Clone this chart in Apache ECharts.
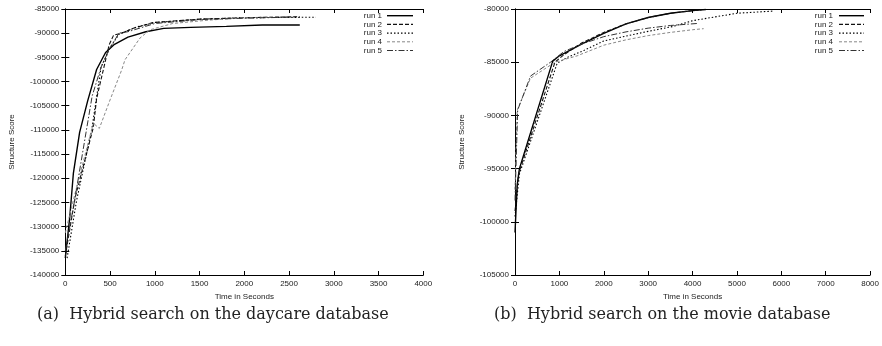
<!DOCTYPE html>
<html><head><meta charset="utf-8">
<script src="https://cdn.jsdelivr.net/npm/echarts@6/dist/echarts.min.js"></script>
<style>html,body{margin:0;padding:0;background:#fff}#c{width:882px;height:346px}</style>
</head><body><div id="c"></div>
<script>
// ---- Data: daycare (left) ----
const runNames = ['run 1','run 2','run 3','run 4','run 5'];
const dayXTicks = [0,500,1000,1500,2000,2500,3000,3500,4000];
const dayYTicks = [-140000,-135000,-130000,-125000,-120000,-115000,-110000,-105000,-100000,-95000,-90000,-85000];
const dayRun1X = [0,50,90,160,250,350,450,550,700,900,1100,1400,1800,2200,2620];
const dayRun1Y = [-136500,-128000,-119000,-110500,-104000,-97500,-94000,-92300,-90800,-89700,-89000,-88800,-88600,-88300,-88300];
const dayRun2X = [0,110,313,350,490,540,630,760,980,1500,2000,2620];
const dayRun2Y = [-136000,-124000,-109500,-103500,-92400,-90400,-90000,-89000,-87800,-87100,-86800,-86600];
const dayRun3X = [20,127,295,400,500,600,800,1000,1500,2000,2800];
const dayRun3Y = [-136500,-124500,-110000,-97000,-93000,-90200,-88700,-87800,-87100,-86800,-86700];
const dayRun4X = [0,90,313,380,500,630,667,835,946,1200,1600,2000,2500];
const dayRun4Y = [-131300,-124500,-108600,-109700,-103800,-97600,-95500,-91000,-89300,-88000,-87300,-86800,-86600];
const dayRun5X = [0,100,300,400,500,600,700,1000,1500,2000,2500];
const dayRun5Y = [-135000,-125000,-103000,-97000,-93000,-90000,-89700,-88000,-87200,-86900,-86700];
// ---- Data: movie (right) ----
const movXTicks = [0,1000,2000,3000,4000,5000,6000,7000,8000];
const movYTicks = [-105000,-100000,-95000,-90000,-85000,-80000];
const movRun1X = [0,50,100,850,1000,1500,2000,2500,3000,3500,4000,4300];
const movRun1Y = [-101000,-96500,-95000,-84900,-84400,-83300,-82300,-81400,-80800,-80400,-80150,-80050];
const movRun2X = [0,80,900,1100,1500,2000,2500,3000,3500,4000,4200];
const movRun2Y = [-99000,-95500,-85000,-84300,-83200,-82200,-81400,-80800,-80400,-80150,-80100];
const movRun3X = [0,100,950,1200,1500,2000,3000,3550,4000,5000,5800];
const movRun3Y = [-99500,-95500,-85100,-84500,-84000,-83000,-82100,-81650,-81100,-80400,-80200];
const movRun4X = [0,50,350,900,1400,2000,2500,3000,3500,4000,4250];
const movRun4Y = [-97000,-89500,-86500,-85000,-84400,-83400,-82900,-82500,-82200,-81950,-81850];
const movRun5X = [0,60,350,800,1100,1500,2000,2500,3000,3500,4140];
const movRun5Y = [-98000,-89500,-86300,-85000,-84000,-83300,-82600,-82150,-81800,-81550,-81350];

const captions = ['(a)  Hybrid search on the daycare database','(b)  Hybrid search on the movie database'];

function pairs(xs, ys){ return xs.map((x,i)=>[x, ys[i]]); }
const styles = [
  {color:'#000', width:1.4, type:'solid'},
  {color:'#111', width:1.1, type:[4,2]},
  {color:'#000', width:1.1, type:[1.5,2]},
  {color:'#888', width:1, type:[3,2]},
  {color:'#333', width:1, type:[6,2,1.5,2]}
];
const dayData = [pairs(dayRun1X,dayRun1Y),pairs(dayRun2X,dayRun2Y),pairs(dayRun3X,dayRun3Y),pairs(dayRun4X,dayRun4Y),pairs(dayRun5X,dayRun5Y)];
const movData = [pairs(movRun1X,movRun1Y),pairs(movRun2X,movRun2Y),pairs(movRun3X,movRun3Y),pairs(movRun4X,movRun4Y),pairs(movRun5X,movRun5Y)];

const FONT = 'Liberation Sans';
const lab = {fontFamily:FONT, fontSize:8, color:'#222', formatter:(v)=>String(v)};
function xAxes(gi, ticks){
  const min=ticks[0], max=ticks[ticks.length-1], interval=ticks[1]-ticks[0];
  return [
    {type:'value', gridIndex:gi, min, max, interval, position:'bottom',
     name:'Time in Seconds', nameLocation:'middle', nameGap:18, nameTextStyle:{fontFamily:FONT,fontSize:8,color:'#222'},
     axisLine:{lineStyle:{color:'#000',width:1}}, axisTick:{inside:true,length:4,lineStyle:{color:'#000'}},
     axisLabel:Object.assign({margin:5, showMaxLabel:true}, lab), splitLine:{show:false}},
    {type:'value', gridIndex:gi, min, max, interval, position:'top',
     axisLine:{lineStyle:{color:'#000',width:1}}, axisTick:{inside:true,length:4,lineStyle:{color:'#000'}},
     axisLabel:{show:false}, splitLine:{show:false}}
  ];
}
function yAxes(gi, ticks, gap){
  const min=ticks[0], max=ticks[ticks.length-1], interval=ticks[1]-ticks[0];
  return [
    {type:'value', gridIndex:gi, min, max, interval, position:'left',
     name:'Structure Score', nameLocation:'middle', nameGap:gap, nameRotate:90, nameTextStyle:{fontFamily:FONT,fontSize:8,color:'#222'},
     axisLine:{show:true,lineStyle:{color:'#000',width:1}}, axisTick:{show:true,inside:true,length:4,lineStyle:{color:'#000'}},
     axisLabel:Object.assign({margin:6}, lab), splitLine:{show:false}},
    {type:'value', gridIndex:gi, min, max, interval, position:'right',
     axisLine:{show:true,lineStyle:{color:'#000',width:1}}, axisTick:{show:true,inside:true,length:4,lineStyle:{color:'#000'}},
     axisLabel:{show:false}, splitLine:{show:false}}
  ];
}
const series = [];
[dayData, movData].forEach((set, gi)=>{
  set.forEach((d,i)=>{
    series.push({type:'line', name:runNames[i], xAxisIndex:gi*2, yAxisIndex:gi*2, data:d,
      showSymbol:false, symbol:'none', animation:false, silent:true,
      lineStyle:{color:styles[i].color, width:styles[i].width, type:styles[i].type},
      itemStyle:{color:styles[i].color}});
  });
});
// legend drawn as graphic (text + sample line) in gnuplot style
const graphics = [];
[[382,387,413],[833,839,864]].forEach(([tx,l0,l1])=>{
  runNames.forEach((nm,i)=>{
    const y = 15.7 + i*8.7;
    graphics.push({type:'text', x:tx, y:y, silent:true,
      style:{text:nm, font:'8px "Liberation Sans"', fill:'#222', textAlign:'right', textVerticalAlign:'middle'}});
    graphics.push({type:'line', silent:true, shape:{x1:l0,y1:y,x2:l1,y2:y},
      style:{stroke:styles[i].color, lineWidth:styles[i].width, lineDash:styles[i].type==='solid'?null:styles[i].type}});
  });
});
graphics.push({type:'text', left:37, top:307, style:{text:captions[0], font:'16px "DejaVu Serif"', fill:'#222'}});
graphics.push({type:'text', left:494, top:307, style:{text:captions[1], font:'16px "DejaVu Serif"', fill:'#222'}});

const chart = echarts.init(document.getElementById('c'), null, {renderer:'canvas'});
chart.setOption({
  backgroundColor:'#fff', animation:false,
  grid:[{left:65.3, width:358, top:9, height:266},{left:515, width:359.3, top:9, height:266}],
  xAxis:[...xAxes(0,dayXTicks), ...xAxes(1,movXTicks)],
  yAxis:[...yAxes(0,dayYTicks,50), ...yAxes(1,movYTicks,49)],
  series:series,
  graphic:graphics
});
</script></body></html>
